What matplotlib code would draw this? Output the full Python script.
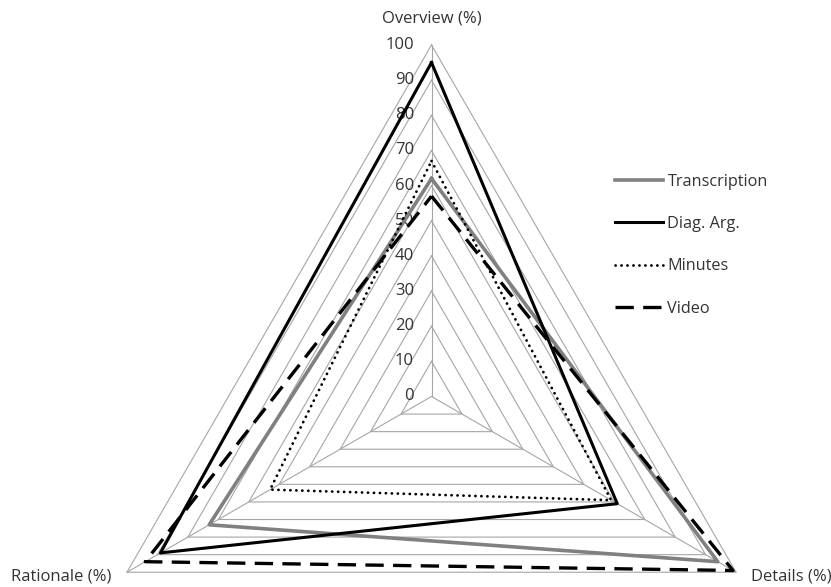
import numpy as np
import matplotlib.pyplot as plt

plt.rcParams['font.family'] = ['Open Sans', 'DejaVu Sans']

axes_names = ['Overview (%)', 'Details (%)', 'Rationale (%)']
series = ['Transcription', 'Diag. Arg.', 'Minutes', 'Video']
transcription = [62, 94, 73]
diag_arg = [95, 61, 89]
minutes = [67, 59, 53]
video = [57, 99, 94]
ticks = list(range(0, 101, 10))

angles = np.deg2rad([90, -30, 210])


def xy(vals):
    v = np.array(list(vals) + [vals[0]], dtype=float)
    a = np.append(angles, angles[0])
    return v * np.cos(a), v * np.sin(a)


fig = plt.figure(figsize=(8.31, 5.87), dpi=100)
ax = fig.add_axes([0, 0, 1, 1])
ax.set_xlim(-122.7, 113.6)
ax.set_ylim(-54.2, 112.8)
ax.axis('off')

# triangular grid at every tick
grid_col = '#a6a6a6'
for r in ticks[1:]:
    gx, gy = xy([r, r, r])
    ax.plot(gx, gy, color=grid_col, lw=0.8, zorder=1)
for a in angles:
    ax.plot([0, 100 * np.cos(a)], [0, 100 * np.sin(a)], color=grid_col, lw=0.8, zorder=1)

txt_col = '#333333'
for t in ticks:
    ax.text(-5, t, str(t), ha='right', va='center', fontsize=12, color=txt_col)

styles = {
    'Transcription': dict(color='#808080', lw=2.6, ls='-'),
    'Diag. Arg.': dict(color='black', lw=2.2, ls='-'),
    'Minutes': dict(color='black', lw=2.0, ls=(0, (0.05, 2.1)), dash_capstyle='round'),
    'Video': dict(color='black', lw=2.4, ls=(0, (5.5, 2.8))),
}
for name, vals in zip(series, [transcription, diag_arg, minutes, video]):
    sx, sy = xy(vals)
    ax.plot(sx, sy, label=name, zorder=3, **styles[name])

ax.text(0, 107.6, axes_names[0], ha='center', va='center', fontsize=12, color=txt_col)
ax.text(102.3, -51.3, axes_names[1], ha='center', va='center', fontsize=12, color=txt_col)
ax.text(-105.2, -51.3, axes_names[2], ha='center', va='center', fontsize=12, color=txt_col)

leg = ax.legend(loc='upper left', bbox_to_anchor=(0.722, 0.729), frameon=False,
                fontsize=11.7, handlelength=2.95, handletextpad=0.3, labelspacing=1.62)
for t in leg.get_texts():
    t.set_color(txt_col)

plt.savefig('out.png', dpi=100)
plt.close()
